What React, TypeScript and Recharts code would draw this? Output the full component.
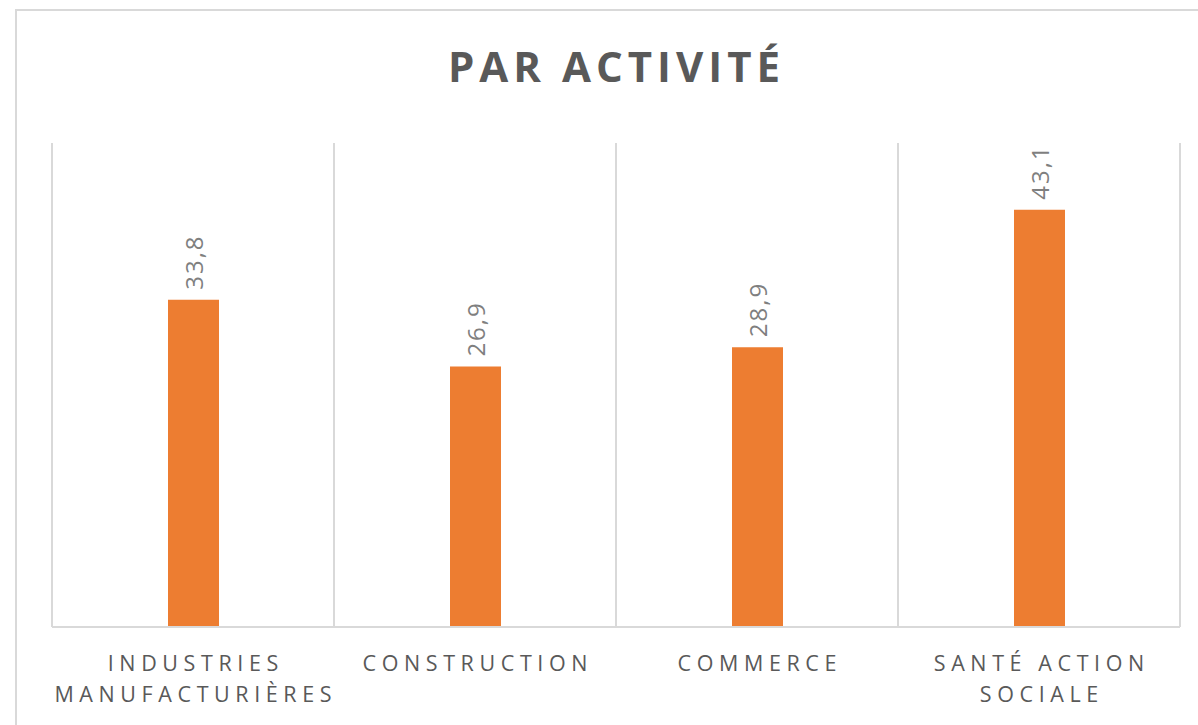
import React from "react";
import { BarChart, Bar, XAxis, YAxis, CartesianGrid, LabelList } from "recharts";

const categories = ["INDUSTRIES MANUFACTURIÈRES", "CONSTRUCTION", "COMMERCE", "SANTÉ ACTION SOCIALE"];
const values = [33.8, 26.9, 28.9, 43.1];
const tickLines = [["INDUSTRIES", "MANUFACTURIÈRES"], ["CONSTRUCTION"], ["COMMERCE"], ["SANTÉ ACTION", "SOCIALE"]];
const valueLabels = ["33,8", "26,9", "28,9", "43,1"];
const yDomain = [0, 50];
const title = "PAR ACTIVITÉ";

const data = categories.map((c, i) => ({ name: c, value: values[i], label: valueLabels[i] }));

const FONT = "'Open Sans', 'DejaVu Sans', sans-serif";
const GRID = "#d9d9d9";

const AxisTick = (props: any) => {
  const { x, y, payload } = props;
  const lines = tickLines[payload.index] || [String(payload.value)];
  const ls = 5.6;
  return (
    <g>
      {lines.map((ln, i) => (
        <text
          key={i}
          x={x + ls / 2}
          y={y + 36 + i * 31}
          textAnchor="middle"
          fontSize={21.5}
          letterSpacing={ls}
          fill="#595959"
          fontFamily={FONT}
        >
          {ln}
        </text>
      ))}
    </g>
  );
};

const ValueLabel = (props: any) => {
  const { x, y, width, index } = props;
  const cx = x + width / 2;
  const ty = y - 10;
  return (
    <text
      x={cx}
      y={ty}
      transform={`rotate(-90 ${cx} ${ty})`}
      textAnchor="start"
      dominantBaseline="central"
      fontSize={24}
      letterSpacing={2}
      fill="#7f7f7f"
      fontFamily={FONT}
    >
      {valueLabels[index]}
    </text>
  );
};

const vGen = (props: any) => {
  const { offset } = props;
  const out: number[] = [];
  const n = categories.length;
  for (let i = 0; i <= n; i++) out.push(offset.left + (offset.width * i) / n);
  return out;
};

export default function App() {
  return (
    <div style={{ position: "absolute", left: 0, top: 0, width: 1198, height: 725, overflow: "hidden", background: "#fff" }}>
      <div
        style={{
          position: "absolute",
          left: 15,
          top: 9,
          width: 1220,
          height: 760,
          border: `2px solid ${GRID}`,
          boxSizing: "border-box",
        }}
      />
      <svg style={{ position: "absolute", left: 0, top: 0 }} width={1198} height={120}>
        <text
          x={614 + 2.5}
          y={82}
          textAnchor="middle"
          fontSize={42}
          fontWeight={700}
          letterSpacing={5}
          fill="#595959"
          fontFamily={FONT}
        >
          {title}
        </text>
      </svg>
      <div style={{ position: "absolute", left: 0, top: 0 }}>
        <BarChart
          width={1198}
          height={725}
          data={data}
          margin={{ top: 143, right: 18, left: 52, bottom: 18 }}
          style={{ fontFamily: FONT }}
        >
          <CartesianGrid horizontal={false} vertical stroke={GRID} strokeWidth={2} verticalCoordinatesGenerator={vGen} />
          <XAxis
            dataKey="name"
            height={80}
            tickLine={false}
            axisLine={{ stroke: GRID, strokeWidth: 2 }}
            tick={<AxisTick />}
            interval={0}
          />
          <YAxis hide domain={yDomain} />
          <Bar dataKey="value" fill="#ED7D31" barSize={51} isAnimationActive={false}>
            <LabelList dataKey="label" content={<ValueLabel />} />
          </Bar>
        </BarChart>
      </div>
    </div>
  );
}
